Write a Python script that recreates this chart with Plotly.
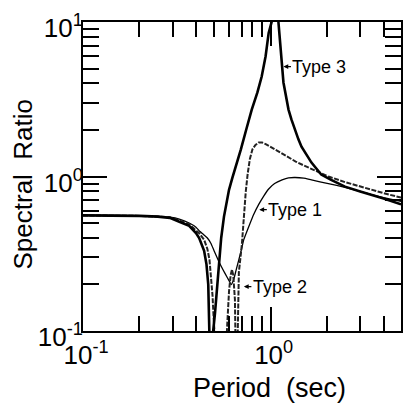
import math
import plotly.graph_objects as go

# ---- data (period in s, spectral ratio) ----
period_type3 = [0.10, 0.15, 0.20, 0.25, 0.29, 0.326, 0.368, 0.40, 0.416, 0.442, 0.455, 0.465, 0.47,
                0.476, 0.481, 0.486, 0.49, 0.494, 0.505, 0.512, 0.522, 0.531, 0.545, 0.564, 0.58,
                0.60, 0.625, 0.653, 0.694, 0.74, 0.793, 0.85, 0.896, 0.94, 0.976, 1.012, 1.035,
                1.055, 1.075, 1.10, 1.13, 1.17, 1.245, 1.29, 1.406, 1.46, 1.65, 1.86, 2.10, 2.49,
                3.0, 3.42, 4.0, 4.95]
ratio_type3 = [0.56, 0.56, 0.556, 0.55, 0.54, 0.51, 0.48, 0.43, 0.40, 0.33, 0.27, 0.20, 0.15,
               0.10, 0.05, 0.02, 0.05, 0.10, 0.13, 0.16, 0.22, 0.29, 0.40, 0.55, 0.67,
               0.82, 0.98, 1.16, 1.50, 2.0, 2.71, 3.5, 4.44, 6.0, 8.5, 10.0, 14.0,
               18.0, 14.0, 10.0, 6.64, 4.06, 2.71, 2.34, 1.74, 1.56, 1.23, 1.03, 0.95, 0.86,
               0.80, 0.765, 0.72, 0.66]

period_type2 = [0.10, 0.15, 0.20, 0.25, 0.29, 0.326, 0.368, 0.39, 0.416, 0.442, 0.46, 0.472,
                0.481, 0.49, 0.497, 0.503, 0.52, 0.545, 0.565, 0.578, 0.587, 0.60, 0.612, 0.622,
                0.632, 0.645, 0.655, 0.661, 0.668, 0.677, 0.702, 0.719, 0.737, 0.755, 0.775,
                0.80, 0.83, 0.864, 0.90, 0.941, 1.0, 1.10, 1.2, 1.36, 1.5, 1.65, 2.03, 2.49,
                3.0, 3.42, 4.0, 4.95]
ratio_type2 = [0.56, 0.56, 0.556, 0.55, 0.545, 0.52, 0.49, 0.46, 0.43, 0.39, 0.34, 0.29,
               0.23, 0.17, 0.12, 0.08, 0.03, 0.02, 0.04, 0.08, 0.11, 0.18, 0.23, 0.25,
               0.23, 0.16, 0.09, 0.02, 0.10, 0.24, 0.36, 0.55, 0.80, 1.05, 1.30,
               1.50, 1.60, 1.66, 1.66, 1.62, 1.55, 1.45, 1.36, 1.25, 1.18, 1.12, 1.0, 0.92,
               0.86, 0.82, 0.78, 0.73]

period_type1 = [0.10, 0.15, 0.20, 0.25, 0.29, 0.326, 0.368, 0.40, 0.42, 0.44, 0.46, 0.48, 0.50,
                0.531, 0.571, 0.60, 0.615, 0.635, 0.653, 0.677, 0.70, 0.719, 0.765, 0.813,
                0.864, 0.92, 0.976, 1.05, 1.15, 1.245, 1.35, 1.5, 1.65, 2.03, 2.49, 3.0, 3.42,
                4.0, 4.95]
ratio_type1 = [0.56, 0.56, 0.557, 0.552, 0.545, 0.53, 0.50, 0.47, 0.44, 0.42, 0.40, 0.37, 0.33,
               0.28, 0.236, 0.212, 0.20, 0.215, 0.245, 0.29, 0.34, 0.39, 0.475, 0.57,
               0.66, 0.75, 0.83, 0.90, 0.95, 0.98, 0.985, 0.975, 0.95, 0.90, 0.85, 0.80, 0.765,
               0.73, 0.69]

x_ticks = [0.1, 1, 10]
x_ticktext = ["10<sup>-1</sup>", "10<sup>0</sup>", "10<sup>1</sup>"]
y_ticks = [0.1, 1, 10]
y_ticktext = ["10<sup>-1</sup>", "10<sup>0</sup>", "10<sup>1</sup>"]
x_minor = [0.2, 0.3, 0.4, 0.5, 0.6, 0.7, 0.8, 0.9, 2, 3, 4]
y_minor = [0.2, 0.3, 0.4, 0.5, 0.6, 0.7, 0.8, 0.9, 2, 3, 4, 5, 6, 7, 8, 9]

labels = ["Type 3", "Type 1", "Type 2"]
label_period = [1.17, 0.87, 0.72]
label_ratio = [5.15, 0.61, 0.194]

x_title = "Period  (sec)"
y_title = "Spectral  Ratio"

FONT = "Liberation Sans, Arial, Helvetica, sans-serif"

fig = go.Figure()
fig.add_trace(go.Scatter(x=period_type1, y=ratio_type1, mode="lines",
                         line=dict(color="black", width=1.3, shape="spline", smoothing=0.4),
                         showlegend=False))
fig.add_trace(go.Scatter(x=period_type2, y=ratio_type2, mode="lines",
                         line=dict(color="#222", width=2, dash="5px,1.5px"),
                         showlegend=False))
fig.add_trace(go.Scatter(x=period_type3, y=ratio_type3, mode="lines",
                         line=dict(color="black", width=2.6),
                         showlegend=False))

for txt, px, ry in zip(labels, label_period, label_ratio):
    fig.add_annotation(x=math.log10(px), y=math.log10(ry), xref="x", yref="y",
                       text=txt, showarrow=True, ax=36, ay=0,
                       arrowhead=2, arrowsize=0.8, arrowwidth=1.2, arrowcolor="black",
                       standoff=0, startstandoff=0, xanchor="center",
                       font=dict(family=FONT, size=18, color="black"))

# axis titles (placed as annotations to match the reference position)
fig.add_annotation(xref="paper", yref="paper", x=0.585, y=-0.183, text=x_title,
                   showarrow=False, xanchor="center", yanchor="middle",
                   font=dict(family=FONT, size=27, color="black"))
fig.add_annotation(xref="paper", yref="paper", x=-0.19, y=0.476, text=y_title,
                   showarrow=False, textangle=-90, xanchor="center", yanchor="middle",
                   font=dict(family=FONT, size=26, color="black"))

axis_common = dict(type="log", showline=True, linecolor="black", linewidth=2,
                   mirror="ticks", ticks="inside", ticklen=24, tickwidth=2, tickcolor="black",
                   showgrid=False, zeroline=False,
                   tickfont=dict(family=FONT, size=26, color="black"))

fig.update_xaxes(**axis_common, range=[-1, math.log10(4.95)],
                 tickmode="array", tickvals=x_ticks, ticktext=x_ticktext,
                 ticklabelshift=3,
                 minor=dict(tickmode="array", tickvals=x_minor, ticks="inside",
                            ticklen=15, tickwidth=1.6, tickcolor="black", showgrid=False))
fig.update_yaxes(**axis_common, range=[-1, 1],
                 tickmode="array", tickvals=y_ticks, ticktext=y_ticktext,
                 ticklabelstandoff=-7, ticklabelshift=6,
                 minor=dict(tickmode="array", tickvals=y_minor, ticks="inside",
                            ticklen=16, tickwidth=1.6, tickcolor="black", showgrid=False))

fig.update_layout(width=405, height=406, margin=dict(l=83, r=2, t=22, b=75),
                  plot_bgcolor="white", paper_bgcolor="white")

fig.write_html("out.html")
